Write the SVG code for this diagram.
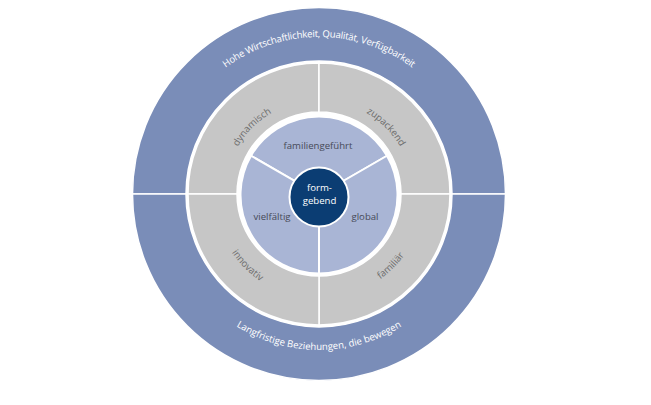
<svg xmlns="http://www.w3.org/2000/svg" width="651" height="405" viewBox="0 0 651 405">
<style>
.outer{fill:#7a8db8;stroke:#fff;stroke-width:1.5}
.gray{fill:#c6c6c6;stroke:#fff;stroke-width:1.5}
.lb{fill:#a9b5d5;stroke:#fff;stroke-width:2}
.core{fill:#0b3d73;stroke:#fff;stroke-width:2}
text{font-family:"Open Sans","Liberation Sans",Arial,sans-serif;font-size:9.6px}
.tw{fill:#ffffff}
.tg{fill:#6c6c6c}
.td{fill:#474a58}
</style>
<defs>
<path id="arcTop" d="M162,194 A157,157 0 0 1 476,194"/>
<path id="arcBot" d="M163,194 A156,156 0 0 0 475,194"/>
<path id="arcGTop" d="M225,194 A94,94 0 0 1 413,194"/>
<path id="arcGBot" d="M214,194 A105,105 0 0 0 424,194"/>
</defs>
<rect width="651" height="405" fill="#fff"/>
<g id="outer-top">
<path class="outer" d="M132.5,194 A186.5,186.5 0 0 1 505.5,194 L452,194 A133,133 0 0 0 186,194 Z"/>
<text class="tw" text-anchor="middle"><textPath href="#arcTop" startOffset="50%" textLength="200" lengthAdjust="spacing">Hohe Wirtschaftlichkeit, Qualität, Verfügbarkeit</textPath></text>
</g>
<g id="outer-bottom">
<path class="outer" d="M505.5,194 A186.5,186.5 0 0 1 132.5,194 L186,194 A133,133 0 0 0 452,194 Z"/>
<text class="tw" text-anchor="middle"><textPath href="#arcBot" startOffset="50%">Langfristige Beziehungen, die bewegen</textPath></text>
</g>
<g id="dynamisch">
<path class="gray" d="M188,194 A131,131 0 0 1 319,63 L319,112 A82,82 0 0 0 237,194 Z"/>
<text class="tg" text-anchor="middle"><textPath href="#arcGTop" startOffset="25%">dynamisch</textPath></text>
</g>
<g id="zupackend">
<path class="gray" d="M319,63 A131,131 0 0 1 450,194 L401,194 A82,82 0 0 0 319,112 Z"/>
<text class="tg" text-anchor="middle"><textPath href="#arcGTop" startOffset="75%">zupackend</textPath></text>
</g>
<g id="familiaer">
<path class="gray" d="M450,194 A131,131 0 0 1 319,325 L319,276 A82,82 0 0 0 401,194 Z"/>
<text class="tg" text-anchor="middle"><textPath href="#arcGBot" startOffset="75%">familiär</textPath></text>
</g>
<g id="innovativ">
<path class="gray" d="M319,325 A131,131 0 0 1 188,194 L237,194 A82,82 0 0 0 319,276 Z"/>
<text class="tg" text-anchor="middle"><textPath href="#arcGBot" startOffset="25%">innovativ</textPath></text>
</g>
<g id="familiengefuehrt">
<path class="lb" d="M319,195 L251.02,155.75 A78.5,78.5 0 0 1 386.98,155.75 Z"/>
<text class="td" x="318" y="149" text-anchor="middle">familiengeführt</text>
</g>
<g id="global">
<path class="lb" d="M319,195 L386.98,155.75 A78.5,78.5 0 0 1 319,273.5 Z"/>
<text class="td" x="365" y="220" text-anchor="middle">global</text>
</g>
<g id="vielfaeltig">
<path class="lb" d="M319,195 L319,273.5 A78.5,78.5 0 0 1 251.02,155.75 Z"/>
<text class="td" x="272" y="220" text-anchor="middle">vielfältig</text>
</g>
<g id="connectors"></g>
<g id="formgebend">
<circle class="core" cx="319" cy="197" r="29.5"/>
<text class="tw" x="319.5" y="191" text-anchor="middle">form-</text>
<text class="tw" x="319.5" y="204" text-anchor="middle">gebend</text>
</g>
</svg>
